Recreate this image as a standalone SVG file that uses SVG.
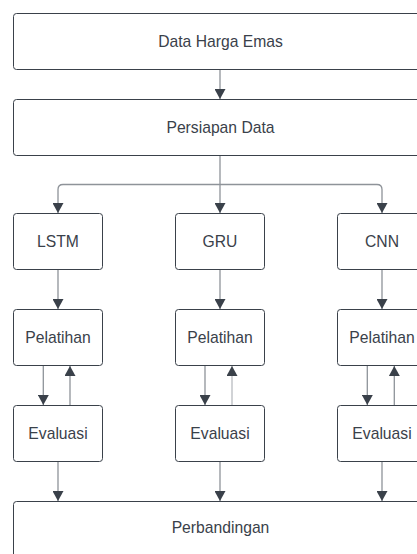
<svg xmlns="http://www.w3.org/2000/svg" width="417" height="554" viewBox="0 0 417 554">
<defs>
<style>
.box{fill:#ffffff;stroke:#3a414a;stroke-width:1}
.lbl{font-family:"Liberation Sans",Arial,sans-serif;font-size:15.7px;fill:#3a414a;text-anchor:middle;dominant-baseline:central}
.con{fill:none;stroke:#8e9399;stroke-width:1.3}
</style>
<marker id="ah" markerUnits="userSpaceOnUse" markerWidth="12" markerHeight="11" viewBox="0 0 12 11" refX="10" refY="5.5" orient="auto">
<path d="M0,0 L10,5.5 L0,11 Z" fill="#3a414a"/>
</marker>
</defs>
<rect width="417" height="554" fill="#ffffff"/>
<g id="connectors">
<path class="con" d="M220,69.5 V99" marker-end="url(#ah)"/>
<path class="con" d="M220,155.5 V213" marker-end="url(#ah)"/>
<path class="con" d="M220,184.5 H63 Q58,184.5 58,189.5 V213" marker-end="url(#ah)"/>
<path class="con" d="M220,184.5 H377 Q382,184.5 382,189.5 V213" marker-end="url(#ah)"/>
<path class="con" d="M58,269.5 V309" marker-end="url(#ah)"/>
<path class="con" d="M220,269.5 V309" marker-end="url(#ah)"/>
<path class="con" d="M382,269.5 V309" marker-end="url(#ah)"/>
<path class="con" d="M43.3,365.5 V405" marker-end="url(#ah)"/>
<path class="con" d="M70,405.5 V366" marker-end="url(#ah)"/>
<path class="con" d="M205,365.5 V405" marker-end="url(#ah)"/>
<path class="con" d="M232,405.5 V366" marker-end="url(#ah)" style="stroke:#b8bcc0"/>
<path class="con" d="M367.3,365.5 V405" marker-end="url(#ah)"/>
<path class="con" d="M394.3,405.5 V366" marker-end="url(#ah)"/>
<path class="con" d="M58,461.5 V501" marker-end="url(#ah)"/>
<path class="con" d="M220,461.5 V501" marker-end="url(#ah)"/>
<path class="con" d="M382,461.5 V501" marker-end="url(#ah)"/>
</g>
<g id="data-harga-emas"><rect class="box" x="13.5" y="13.5" width="420" height="56" rx="3"/><text class="lbl" x="220.5" y="41">Data Harga Emas</text></g>
<g id="persiapan-data"><rect class="box" x="13.5" y="99.5" width="420" height="56" rx="3"/><text class="lbl" x="220.5" y="127">Persiapan Data</text></g>
<g id="lstm"><rect class="box" x="13.5" y="213.5" width="89" height="56" rx="3"/><text class="lbl" x="58" y="241">LSTM</text></g>
<g id="gru"><rect class="box" x="175.5" y="213.5" width="89" height="56" rx="3"/><text class="lbl" x="220" y="241">GRU</text></g>
<g id="cnn"><rect class="box" x="337.5" y="213.5" width="89" height="56" rx="3"/><text class="lbl" x="382" y="241">CNN</text></g>
<g id="pelatihan-lstm"><rect class="box" x="13.5" y="309.5" width="89" height="56" rx="3"/><text class="lbl" x="58" y="337">Pelatihan</text></g>
<g id="pelatihan-gru"><rect class="box" x="175.5" y="309.5" width="89" height="56" rx="3"/><text class="lbl" x="220" y="337">Pelatihan</text></g>
<g id="pelatihan-cnn"><rect class="box" x="337.5" y="309.5" width="89" height="56" rx="3"/><text class="lbl" x="382" y="337">Pelatihan</text></g>
<g id="evaluasi-lstm"><rect class="box" x="13.5" y="405.5" width="89" height="56" rx="3"/><text class="lbl" x="58" y="433">Evaluasi</text></g>
<g id="evaluasi-gru"><rect class="box" x="175.5" y="405.5" width="89" height="56" rx="3"/><text class="lbl" x="220" y="433">Evaluasi</text></g>
<g id="evaluasi-cnn"><rect class="box" x="337.5" y="405.5" width="89" height="56" rx="3"/><text class="lbl" x="382" y="433">Evaluasi</text></g>
<g id="perbandingan"><rect class="box" x="13.5" y="501.5" width="420" height="80" rx="3"/><text class="lbl" x="220.5" y="527">Perbandingan</text></g>
</svg>
